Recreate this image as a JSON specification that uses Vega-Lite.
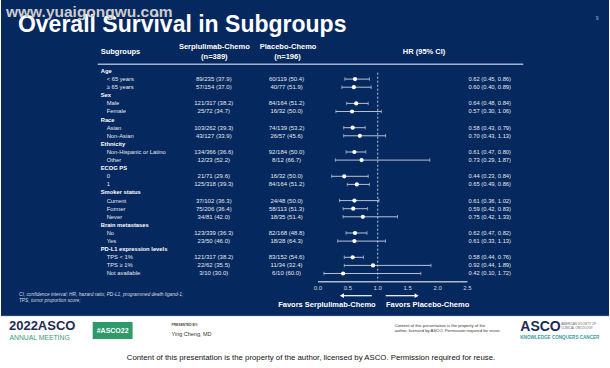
{
  "$schema": "https://vega.github.io/schema/vega-lite/v6.json",
  "width": 610,
  "height": 368,
  "autosize": {"type": "fit", "contains": "padding"},
  "padding": 0,
  "background": "#ffffff",
  "config": {"view": {"stroke": null}, "font": "Liberation Sans"},
  "data": {"values": [
    {"row": 0, "label": "Age", "hdr": true},
    {"row": 1, "label": "< 65 years", "hdr": false, "c1": "89/235 (37.9)", "c2": "60/119 (50.4)", "hr": 0.62, "lo": 0.45, "hi": 0.86, "txt": "0.62 (0.45, 0.86)"},
    {"row": 2, "label": "≥ 65 years", "hdr": false, "c1": "57/154 (37.0)", "c2": "40/77 (51.9)", "hr": 0.60, "lo": 0.40, "hi": 0.89, "txt": "0.60 (0.40, 0.89)"},
    {"row": 3, "label": "Sex", "hdr": true},
    {"row": 4, "label": "Male", "hdr": false, "c1": "121/317 (38.2)", "c2": "84/164 (51.2)", "hr": 0.64, "lo": 0.48, "hi": 0.84, "txt": "0.64 (0.48, 0.84)"},
    {"row": 5, "label": "Female", "hdr": false, "c1": "25/72 (34.7)", "c2": "16/32 (50.0)", "hr": 0.57, "lo": 0.30, "hi": 1.06, "txt": "0.57 (0.30, 1.06)"},
    {"row": 6, "label": "Race", "hdr": true},
    {"row": 7, "label": "Asian", "hdr": false, "c1": "103/262 (39.3)", "c2": "74/139 (53.2)", "hr": 0.58, "lo": 0.43, "hi": 0.79, "txt": "0.58 (0.43, 0.79)"},
    {"row": 8, "label": "Non-Asian", "hdr": false, "c1": "43/127 (33.9)", "c2": "26/57 (45.6)", "hr": 0.70, "lo": 0.43, "hi": 1.13, "txt": "0.70 (0.43, 1.13)"},
    {"row": 9, "label": "Ethnicity", "hdr": true},
    {"row": 10, "label": "Non-Hispanic or Latino", "hdr": false, "c1": "134/366 (36.6)", "c2": "92/184 (50.0)", "hr": 0.61, "lo": 0.47, "hi": 0.80, "txt": "0.61 (0.47, 0.80)"},
    {"row": 11, "label": "Other", "hdr": false, "c1": "12/23 (52.2)", "c2": "8/12 (66.7)", "hr": 0.73, "lo": 0.29, "hi": 1.87, "txt": "0.73 (0.29, 1.87)"},
    {"row": 12, "label": "ECOG PS", "hdr": true},
    {"row": 13, "label": "0", "hdr": false, "c1": "21/71 (29.6)", "c2": "16/32 (50.0)", "hr": 0.44, "lo": 0.23, "hi": 0.84, "txt": "0.44 (0.23, 0.84)"},
    {"row": 14, "label": "1", "hdr": false, "c1": "125/318 (39.3)", "c2": "84/164 (51.2)", "hr": 0.65, "lo": 0.49, "hi": 0.86, "txt": "0.65 (0.49, 0.86)"},
    {"row": 15, "label": "Smoker status", "hdr": true},
    {"row": 16, "label": "Current", "hdr": false, "c1": "37/102 (36.3)", "c2": "24/48 (50.0)", "hr": 0.61, "lo": 0.36, "hi": 1.02, "txt": "0.61 (0.36, 1.02)"},
    {"row": 17, "label": "Former", "hdr": false, "c1": "75/206 (36.4)", "c2": "58/113 (51.3)", "hr": 0.59, "lo": 0.42, "hi": 0.83, "txt": "0.59 (0.42, 0.83)"},
    {"row": 18, "label": "Never", "hdr": false, "c1": "34/81 (42.0)", "c2": "18/35 (51.4)", "hr": 0.75, "lo": 0.42, "hi": 1.33, "txt": "0.75 (0.42, 1.33)"},
    {"row": 19, "label": "Brain metastases", "hdr": true},
    {"row": 20, "label": "No", "hdr": false, "c1": "123/339 (36.3)", "c2": "82/168 (48.8)", "hr": 0.62, "lo": 0.47, "hi": 0.82, "txt": "0.62 (0.47, 0.82)"},
    {"row": 21, "label": "Yes", "hdr": false, "c1": "23/50 (46.0)", "c2": "18/28 (64.3)", "hr": 0.61, "lo": 0.33, "hi": 1.13, "txt": "0.61 (0.33, 1.13)"},
    {"row": 22, "label": "PD-L1 expression levels", "hdr": true},
    {"row": 23, "label": "TPS < 1%", "hdr": false, "c1": "121/317 (38.2)", "c2": "83/152 (54.6)", "hr": 0.58, "lo": 0.44, "hi": 0.76, "txt": "0.58 (0.44, 0.76)"},
    {"row": 24, "label": "TPS ≥ 1%", "hdr": false, "c1": "22/62 (35.5)", "c2": "11/34 (32.4)", "hr": 0.92, "lo": 0.44, "hi": 1.89, "txt": "0.92 (0.44, 1.89)"},
    {"row": 25, "label": "Not available", "hdr": false, "c1": "3/10 (30.0)", "c2": "6/10 (60.0)", "hr": 0.42, "lo": 0.10, "hi": 1.72, "txt": "0.42 (0.10, 1.72)"}
  ]},
  "layer": [
    {"data": {"values": [{}]}, "mark": {"type": "rect", "fill": "#05285e"},
     "encoding": {
       "x": {"datum": -5.3, "type": "quantitative", "scale": {"domain": [-5.3, 4.8667], "nice": false, "zero": false}, "axis": null},
       "x2": {"datum": 4.8667},
       "y": {"datum": -8.765, "type": "quantitative", "scale": {"domain": [-8.765, 36.667], "nice": false, "zero": false, "reverse": true}, "axis": null},
       "y2": {"datum": 30.25}}},
    {"data": {"values": [{}]}, "mark": {"type": "rule", "stroke": "#2c4c80", "strokeWidth": 1},
     "encoding": {
       "x": {"datum": -5.3, "type": "quantitative", "scale": {"domain": [-5.3, 4.8667], "nice": false, "zero": false}, "axis": null},
       "x2": {"datum": 4.8667},
       "y": {"datum": 30.2, "type": "quantitative", "scale": {"domain": [-8.765, 36.667], "nice": false, "zero": false, "reverse": true}, "axis": null}}},
    {"data": {"values": [{}]}, "mark": {"type": "rule", "stroke": "#a3b3cf", "strokeWidth": 1.5},
     "encoding": {
       "x": {"datum": -3.683, "type": "quantitative", "scale": {"domain": [-5.3, 4.8667], "nice": false, "zero": false}, "axis": null},
       "x2": {"datum": 3.433},
       "y": {"datum": -0.827, "type": "quantitative", "scale": {"domain": [-8.765, 36.667], "nice": false, "zero": false, "reverse": true}, "axis": null}}},
    {"data": {"values": [{}]}, "mark": {"type": "rule", "stroke": "#c3cbdb", "strokeWidth": 1, "strokeDash": [2, 2]},
     "encoding": {
       "x": {"datum": 1, "type": "quantitative", "scale": {"domain": [-5.3, 4.8667], "nice": false, "zero": false}, "axis": null},
       "y": {"datum": 0.21, "type": "quantitative", "scale": {"domain": [-8.765, 36.667], "nice": false, "zero": false, "reverse": true}, "axis": null},
       "y2": {"datum": 26.01}}},
    {"data": {"values": [{}]}, "mark": {"type": "rule", "stroke": "#aeb9cc", "strokeWidth": 1.5},
     "encoding": {
       "x": {"datum": 0, "type": "quantitative", "scale": {"domain": [-5.3, 4.8667], "nice": false, "zero": false}, "axis": null},
       "x2": {"datum": 2.5},
       "y": {"datum": 26.01, "type": "quantitative", "scale": {"domain": [-8.765, 36.667], "nice": false, "zero": false, "reverse": true}, "axis": null}}},
    {"data": {"values": [{"t": 0, "lab": "0.0"}, {"t": 0.5, "lab": "0.5"}, {"t": 1, "lab": "1.0"}, {"t": 1.5, "lab": "1.5"}, {"t": 2, "lab": "2.0"}, {"t": 2.5, "lab": "2.5"}]},
     "mark": {"type": "text", "fontSize": 6, "color": "#d3d9e4", "align": "center", "baseline": "middle"},
     "encoding": {
       "x": {"field": "t", "type": "quantitative", "scale": {"domain": [-5.3, 4.8667], "nice": false, "zero": false}, "axis": null},
       "y": {"datum": 26.85, "type": "quantitative", "scale": {"domain": [-8.765, 36.667], "nice": false, "zero": false, "reverse": true}, "axis": null},
       "text": {"field": "lab"}}},
    {"transform": [{"filter": "isValid(datum.hr)"}],
     "mark": {"type": "rule", "stroke": "#b9c3d5", "strokeWidth": 1},
     "encoding": {
       "x": {"field": "lo", "type": "quantitative", "scale": {"domain": [-5.3, 4.8667], "nice": false, "zero": false}, "axis": null},
       "x2": {"field": "hi"},
       "y": {"field": "row", "type": "quantitative", "scale": {"domain": [-8.765, 36.667], "nice": false, "zero": false, "reverse": true}, "axis": null}}},
    {"transform": [{"filter": "isValid(datum.hr)"}],
     "mark": {"type": "tick", "orient": "vertical", "color": "#b9c3d5", "size": 3.5, "thickness": 1},
     "encoding": {
       "x": {"field": "lo", "type": "quantitative", "scale": {"domain": [-5.3, 4.8667], "nice": false, "zero": false}, "axis": null},
       "y": {"field": "row", "type": "quantitative", "scale": {"domain": [-8.765, 36.667], "nice": false, "zero": false, "reverse": true}, "axis": null}}},
    {"transform": [{"filter": "isValid(datum.hr)"}],
     "mark": {"type": "tick", "orient": "vertical", "color": "#b9c3d5", "size": 3.5, "thickness": 1},
     "encoding": {
       "x": {"field": "hi", "type": "quantitative", "scale": {"domain": [-5.3, 4.8667], "nice": false, "zero": false}, "axis": null},
       "y": {"field": "row", "type": "quantitative", "scale": {"domain": [-8.765, 36.667], "nice": false, "zero": false, "reverse": true}, "axis": null}}},
    {"transform": [{"filter": "isValid(datum.hr)"}],
     "mark": {"type": "circle", "color": "#ffffff", "opacity": 1, "size": 18},
     "encoding": {
       "x": {"field": "hr", "type": "quantitative", "scale": {"domain": [-5.3, 4.8667], "nice": false, "zero": false}, "axis": null},
       "y": {"field": "row", "type": "quantitative", "scale": {"domain": [-8.765, 36.667], "nice": false, "zero": false, "reverse": true}, "axis": null}}},
    {"transform": [{"filter": "datum.hdr"}],
     "mark": {"type": "text", "fontSize": 5.8, "fontWeight": "bold", "color": "#ffffff", "align": "left", "baseline": "middle"},
     "encoding": {
       "x": {"datum": -3.633, "type": "quantitative", "scale": {"domain": [-5.3, 4.8667], "nice": false, "zero": false}, "axis": null},
       "y": {"field": "row", "type": "quantitative", "scale": {"domain": [-8.765, 36.667], "nice": false, "zero": false, "reverse": true}, "axis": null},
       "text": {"field": "label"}}},
    {"transform": [{"filter": "!datum.hdr"}],
     "mark": {"type": "text", "fontSize": 5.8, "color": "#e4e8f0", "align": "left", "baseline": "middle"},
     "encoding": {
       "x": {"datum": -3.533, "type": "quantitative", "scale": {"domain": [-5.3, 4.8667], "nice": false, "zero": false}, "axis": null},
       "y": {"field": "row", "type": "quantitative", "scale": {"domain": [-8.765, 36.667], "nice": false, "zero": false, "reverse": true}, "axis": null},
       "text": {"field": "label"}}},
    {"transform": [{"filter": "!datum.hdr"}],
     "mark": {"type": "text", "fontSize": 6, "color": "#e4e8f0", "align": "center", "baseline": "middle"},
     "encoding": {
       "x": {"datum": -1.742, "type": "quantitative", "scale": {"domain": [-5.3, 4.8667], "nice": false, "zero": false}, "axis": null},
       "y": {"field": "row", "type": "quantitative", "scale": {"domain": [-8.765, 36.667], "nice": false, "zero": false, "reverse": true}, "axis": null},
       "text": {"field": "c1"}}},
    {"transform": [{"filter": "!datum.hdr"}],
     "mark": {"type": "text", "fontSize": 6, "color": "#e4e8f0", "align": "center", "baseline": "middle"},
     "encoding": {
       "x": {"datum": -0.525, "type": "quantitative", "scale": {"domain": [-5.3, 4.8667], "nice": false, "zero": false}, "axis": null},
       "y": {"field": "row", "type": "quantitative", "scale": {"domain": [-8.765, 36.667], "nice": false, "zero": false, "reverse": true}, "axis": null},
       "text": {"field": "c2"}}},
    {"transform": [{"filter": "!datum.hdr"}],
     "mark": {"type": "text", "fontSize": 5.8, "color": "#e4e8f0", "align": "left", "baseline": "middle"},
     "encoding": {
       "x": {"datum": 2.517, "type": "quantitative", "scale": {"domain": [-5.3, 4.8667], "nice": false, "zero": false}, "axis": null},
       "y": {"field": "row", "type": "quantitative", "scale": {"domain": [-8.765, 36.667], "nice": false, "zero": false, "reverse": true}, "axis": null},
       "text": {"field": "txt"}}},
    {"data": {"values": [{}]}, "mark": {"type": "text", "text": "Subgroups", "fontSize": 7.5, "fontWeight": "bold", "color": "#ffffff", "align": "left", "baseline": "middle"},
     "encoding": {
       "x": {"datum": -3.633, "type": "quantitative", "scale": {"domain": [-5.3, 4.8667], "nice": false, "zero": false}, "axis": null},
       "y": {"datum": -2.284, "type": "quantitative", "scale": {"domain": [-8.765, 36.667], "nice": false, "zero": false, "reverse": true}, "axis": null}}},
    {"data": {"values": [{}]}, "mark": {"type": "text", "text": "Serplulimab-Chemo", "fontSize": 7.5, "fontWeight": "bold", "color": "#ffffff", "align": "center", "baseline": "middle"},
     "encoding": {
       "x": {"datum": -1.733, "type": "quantitative", "scale": {"domain": [-5.3, 4.8667], "nice": false, "zero": false}, "axis": null},
       "y": {"datum": -2.926, "type": "quantitative", "scale": {"domain": [-8.765, 36.667], "nice": false, "zero": false, "reverse": true}, "axis": null}}},
    {"data": {"values": [{}]}, "mark": {"type": "text", "text": "(n=389)", "fontSize": 7.5, "fontWeight": "bold", "color": "#ffffff", "align": "center", "baseline": "middle"},
     "encoding": {
       "x": {"datum": -1.733, "type": "quantitative", "scale": {"domain": [-5.3, 4.8667], "nice": false, "zero": false}, "axis": null},
       "y": {"datum": -1.765, "type": "quantitative", "scale": {"domain": [-8.765, 36.667], "nice": false, "zero": false, "reverse": true}, "axis": null}}},
    {"data": {"values": [{}]}, "mark": {"type": "text", "text": "Placebo-Chemo", "fontSize": 7.5, "fontWeight": "bold", "color": "#ffffff", "align": "center", "baseline": "middle"},
     "encoding": {
       "x": {"datum": -0.5, "type": "quantitative", "scale": {"domain": [-5.3, 4.8667], "nice": false, "zero": false}, "axis": null},
       "y": {"datum": -2.926, "type": "quantitative", "scale": {"domain": [-8.765, 36.667], "nice": false, "zero": false, "reverse": true}, "axis": null}}},
    {"data": {"values": [{}]}, "mark": {"type": "text", "text": "(n=196)", "fontSize": 7.5, "fontWeight": "bold", "color": "#ffffff", "align": "center", "baseline": "middle"},
     "encoding": {
       "x": {"datum": -0.51, "type": "quantitative", "scale": {"domain": [-5.3, 4.8667], "nice": false, "zero": false}, "axis": null},
       "y": {"datum": -1.765, "type": "quantitative", "scale": {"domain": [-8.765, 36.667], "nice": false, "zero": false, "reverse": true}, "axis": null}}},
    {"data": {"values": [{}]}, "mark": {"type": "text", "text": "HR (95% CI)", "fontSize": 7.5, "fontWeight": "bold", "color": "#ffffff", "align": "center", "baseline": "middle"},
     "encoding": {
       "x": {"datum": 1.775, "type": "quantitative", "scale": {"domain": [-5.3, 4.8667], "nice": false, "zero": false}, "axis": null},
       "y": {"datum": -2.309, "type": "quantitative", "scale": {"domain": [-8.765, 36.667], "nice": false, "zero": false, "reverse": true}, "axis": null}}},
    {"data": {"values": [{}]}, "mark": {"type": "rule", "stroke": "#ffffff", "strokeWidth": 1.2},
     "encoding": {
       "x": {"datum": 0.42, "type": "quantitative", "scale": {"domain": [-5.3, 4.8667], "nice": false, "zero": false}, "axis": null},
       "x2": {"datum": 0.9},
       "y": {"datum": 27.74, "type": "quantitative", "scale": {"domain": [-8.765, 36.667], "nice": false, "zero": false, "reverse": true}, "axis": null}}},
    {"data": {"values": [{}]}, "mark": {"type": "point", "shape": "triangle-left", "filled": true, "color": "#ffffff", "opacity": 1, "size": 22},
     "encoding": {
       "x": {"datum": 0.4, "type": "quantitative", "scale": {"domain": [-5.3, 4.8667], "nice": false, "zero": false}, "axis": null},
       "y": {"datum": 27.74, "type": "quantitative", "scale": {"domain": [-8.765, 36.667], "nice": false, "zero": false, "reverse": true}, "axis": null}}},
    {"data": {"values": [{}]}, "mark": {"type": "rule", "stroke": "#ffffff", "strokeWidth": 1.2},
     "encoding": {
       "x": {"datum": 1.133, "type": "quantitative", "scale": {"domain": [-5.3, 4.8667], "nice": false, "zero": false}, "axis": null},
       "x2": {"datum": 1.63},
       "y": {"datum": 27.74, "type": "quantitative", "scale": {"domain": [-8.765, 36.667], "nice": false, "zero": false, "reverse": true}, "axis": null}}},
    {"data": {"values": [{}]}, "mark": {"type": "point", "shape": "triangle-right", "filled": true, "color": "#ffffff", "opacity": 1, "size": 22},
     "encoding": {
       "x": {"datum": 1.65, "type": "quantitative", "scale": {"domain": [-5.3, 4.8667], "nice": false, "zero": false}, "axis": null},
       "y": {"datum": 27.74, "type": "quantitative", "scale": {"domain": [-8.765, 36.667], "nice": false, "zero": false, "reverse": true}, "axis": null}}},
    {"data": {"values": [{}]}, "mark": {"type": "text", "text": "Favors Serplulimab-Chemo", "fontSize": 7.5, "fontWeight": "bold", "color": "#ffffff", "align": "center", "baseline": "middle"},
     "encoding": {
       "x": {"datum": 0.15, "type": "quantitative", "scale": {"domain": [-5.3, 4.8667], "nice": false, "zero": false}, "axis": null},
       "y": {"datum": 28.95, "type": "quantitative", "scale": {"domain": [-8.765, 36.667], "nice": false, "zero": false, "reverse": true}, "axis": null}}},
    {"data": {"values": [{}]}, "mark": {"type": "text", "text": "Favors Placebo-Chemo", "fontSize": 7.5, "fontWeight": "bold", "color": "#ffffff", "align": "center", "baseline": "middle"},
     "encoding": {
       "x": {"datum": 1.833, "type": "quantitative", "scale": {"domain": [-5.3, 4.8667], "nice": false, "zero": false}, "axis": null},
       "y": {"datum": 28.95, "type": "quantitative", "scale": {"domain": [-8.765, 36.667], "nice": false, "zero": false, "reverse": true}, "axis": null}}},
    {"data": {"values": [{}]}, "mark": {"type": "text", "text": "Overall Survival in Subgroups", "fontSize": 23, "fontWeight": "bold", "color": "#ffffff", "align": "left", "baseline": "alphabetic"},
     "encoding": {
       "x": {"datum": -5.0167, "type": "quantitative", "scale": {"domain": [-5.3, 4.8667], "nice": false, "zero": false}, "axis": null},
       "y": {"datum": -4.753, "type": "quantitative", "scale": {"domain": [-8.765, 36.667], "nice": false, "zero": false, "reverse": true}, "axis": null}}},
    {"data": {"values": [{}]}, "mark": {"type": "text", "text": "www.yuaigongwu.com", "fontSize": 15.5, "fontWeight": "bold", "color": "#cdcdcd", "align": "left", "baseline": "alphabetic"},
     "encoding": {
       "x": {"datum": -5.2167, "type": "quantitative", "scale": {"domain": [-5.3, 4.8667], "nice": false, "zero": false}, "axis": null},
       "y": {"datum": -6.667, "type": "quantitative", "scale": {"domain": [-8.765, 36.667], "nice": false, "zero": false, "reverse": true}, "axis": null}}},
    {"data": {"values": [{}]}, "mark": {"type": "text", "text": "9", "fontSize": 5, "color": "#aab5ca", "align": "center", "baseline": "middle"},
     "encoding": {
       "x": {"datum": 4.667, "type": "quantitative", "scale": {"domain": [-5.3, 4.8667], "nice": false, "zero": false}, "axis": null},
       "y": {"datum": -6.6, "type": "quantitative", "scale": {"domain": [-8.765, 36.667], "nice": false, "zero": false, "reverse": true}, "axis": null}}},
    {"data": {"values": [{}]}, "mark": {"type": "text", "text": "CI, confidence interval; HR, hazard ratio; PD-L1, programmed death ligand-1;", "fontSize": 4.8, "fontStyle": "italic", "color": "#d6dbe5", "align": "left", "baseline": "middle"},
     "encoding": {
       "x": {"datum": -5.0, "type": "quantitative", "scale": {"domain": [-5.3, 4.8667], "nice": false, "zero": false}, "axis": null},
       "y": {"datum": 27.716, "type": "quantitative", "scale": {"domain": [-8.765, 36.667], "nice": false, "zero": false, "reverse": true}, "axis": null}}},
    {"data": {"values": [{}]}, "mark": {"type": "text", "text": "TPS, tumor proportion score;", "fontSize": 4.8, "fontStyle": "italic", "color": "#d6dbe5", "align": "left", "baseline": "middle"},
     "encoding": {
       "x": {"datum": -5.0, "type": "quantitative", "scale": {"domain": [-5.3, 4.8667], "nice": false, "zero": false}, "axis": null},
       "y": {"datum": 28.395, "type": "quantitative", "scale": {"domain": [-8.765, 36.667], "nice": false, "zero": false, "reverse": true}, "axis": null}}},
    {"data": {"values": [{}]}, "mark": {"type": "text", "text": "2022ASCO", "fontSize": 13, "fontWeight": "bold", "color": "#1d2b57", "align": "left", "baseline": "middle"},
     "encoding": {
       "x": {"datum": -5.167, "type": "quantitative", "scale": {"domain": [-5.3, 4.8667], "nice": false, "zero": false}, "axis": null},
       "y": {"datum": 31.48, "type": "quantitative", "scale": {"domain": [-8.765, 36.667], "nice": false, "zero": false, "reverse": true}, "axis": null}}},
    {"data": {"values": [{}]}, "mark": {"type": "text", "text": "ANNUAL MEETING", "fontSize": 6.8, "color": "#3a9a78", "align": "left", "baseline": "middle"},
     "encoding": {
       "x": {"datum": -5.158, "type": "quantitative", "scale": {"domain": [-5.3, 4.8667], "nice": false, "zero": false}, "axis": null},
       "y": {"datum": 32.96, "type": "quantitative", "scale": {"domain": [-8.765, 36.667], "nice": false, "zero": false, "reverse": true}, "axis": null}}},
    {"data": {"values": [{}]}, "mark": {"type": "rect", "fill": "#2e9a68"},
     "encoding": {
       "x": {"datum": -3.767, "type": "quantitative", "scale": {"domain": [-5.3, 4.8667], "nice": false, "zero": false}, "axis": null},
       "x2": {"datum": -3.1},
       "y": {"datum": 30.99, "type": "quantitative", "scale": {"domain": [-8.765, 36.667], "nice": false, "zero": false, "reverse": true}, "axis": null},
       "y2": {"datum": 33.09}}},
    {"data": {"values": [{}]}, "mark": {"type": "text", "text": "#ASCO22", "fontSize": 7, "fontWeight": "bold", "color": "#ffffff", "align": "center", "baseline": "middle"},
     "encoding": {
       "x": {"datum": -3.433, "type": "quantitative", "scale": {"domain": [-5.3, 4.8667], "nice": false, "zero": false}, "axis": null},
       "y": {"datum": 32.04, "type": "quantitative", "scale": {"domain": [-8.765, 36.667], "nice": false, "zero": false, "reverse": true}, "axis": null}}},
    {"data": {"values": [{}]}, "mark": {"type": "text", "text": "PRESENTED BY:", "fontSize": 3.3, "fontWeight": "bold", "color": "#444444", "align": "left", "baseline": "middle"},
     "encoding": {
       "x": {"datum": -2.45, "type": "quantitative", "scale": {"domain": [-5.3, 4.8667], "nice": false, "zero": false}, "axis": null},
       "y": {"datum": 31.3, "type": "quantitative", "scale": {"domain": [-8.765, 36.667], "nice": false, "zero": false, "reverse": true}, "axis": null}}},
    {"data": {"values": [{}]}, "mark": {"type": "text", "text": "Ying Cheng, MD", "fontSize": 5.5, "color": "#333333", "align": "left", "baseline": "middle"},
     "encoding": {
       "x": {"datum": -2.45, "type": "quantitative", "scale": {"domain": [-5.3, 4.8667], "nice": false, "zero": false}, "axis": null},
       "y": {"datum": 32.41, "type": "quantitative", "scale": {"domain": [-8.765, 36.667], "nice": false, "zero": false, "reverse": true}, "axis": null}}},
    {"data": {"values": [{}]}, "mark": {"type": "text", "text": "Content of this presentation is the property of the", "fontSize": 4.2, "color": "#333333", "align": "left", "baseline": "middle"},
     "encoding": {
       "x": {"datum": 1.283, "type": "quantitative", "scale": {"domain": [-5.3, 4.8667], "nice": false, "zero": false}, "axis": null},
       "y": {"datum": 31.54, "type": "quantitative", "scale": {"domain": [-8.765, 36.667], "nice": false, "zero": false, "reverse": true}, "axis": null}}},
    {"data": {"values": [{}]}, "mark": {"type": "text", "text": "author, licensed by ASCO. Permission required for reuse.", "fontSize": 4.2, "color": "#333333", "align": "left", "baseline": "middle"},
     "encoding": {
       "x": {"datum": 1.283, "type": "quantitative", "scale": {"domain": [-5.3, 4.8667], "nice": false, "zero": false}, "axis": null},
       "y": {"datum": 32.16, "type": "quantitative", "scale": {"domain": [-8.765, 36.667], "nice": false, "zero": false, "reverse": true}, "axis": null}}},
    {"data": {"values": [{}]}, "mark": {"type": "text", "text": "ASCO", "fontSize": 14, "fontWeight": "bold", "color": "#1d2b57", "align": "left", "baseline": "middle"},
     "encoding": {
       "x": {"datum": 3.383, "type": "quantitative", "scale": {"domain": [-5.3, 4.8667], "nice": false, "zero": false}, "axis": null},
       "y": {"datum": 31.6, "type": "quantitative", "scale": {"domain": [-8.765, 36.667], "nice": false, "zero": false, "reverse": true}, "axis": null}}},
    {"data": {"values": [{}]}, "mark": {"type": "text", "text": "AMERICAN SOCIETY OF", "fontSize": 3, "color": "#666666", "align": "left", "baseline": "middle"},
     "encoding": {
       "x": {"datum": 4.067, "type": "quantitative", "scale": {"domain": [-5.3, 4.8667], "nice": false, "zero": false}, "axis": null},
       "y": {"datum": 31.17, "type": "quantitative", "scale": {"domain": [-8.765, 36.667], "nice": false, "zero": false, "reverse": true}, "axis": null}}},
    {"data": {"values": [{}]}, "mark": {"type": "text", "text": "CLINICAL ONCOLOGY", "fontSize": 3, "color": "#666666", "align": "left", "baseline": "middle"},
     "encoding": {
       "x": {"datum": 4.067, "type": "quantitative", "scale": {"domain": [-5.3, 4.8667], "nice": false, "zero": false}, "axis": null},
       "y": {"datum": 31.67, "type": "quantitative", "scale": {"domain": [-8.765, 36.667], "nice": false, "zero": false, "reverse": true}, "axis": null}}},
    {"data": {"values": [{}]}, "mark": {"type": "text", "text": "KNOWLEDGE CONQUERS CANCER", "fontSize": 4.6, "fontWeight": "bold", "color": "#3a9a9a", "align": "left", "baseline": "middle"},
     "encoding": {
       "x": {"datum": 3.383, "type": "quantitative", "scale": {"domain": [-5.3, 4.8667], "nice": false, "zero": false}, "axis": null},
       "y": {"datum": 33.02, "type": "quantitative", "scale": {"domain": [-8.765, 36.667], "nice": false, "zero": false, "reverse": true}, "axis": null}}},
    {"data": {"values": [{}]}, "mark": {"type": "text", "text": "Content of this presentation is the property of the author, licensed by ASCO. Permission required for reuse.", "fontSize": 7.8, "color": "#111111", "align": "center", "baseline": "middle"},
     "encoding": {
       "x": {"datum": -0.117, "type": "quantitative", "scale": {"domain": [-5.3, 4.8667], "nice": false, "zero": false}, "axis": null},
       "y": {"datum": 35.432, "type": "quantitative", "scale": {"domain": [-8.765, 36.667], "nice": false, "zero": false, "reverse": true}, "axis": null}}}
  ]
}
